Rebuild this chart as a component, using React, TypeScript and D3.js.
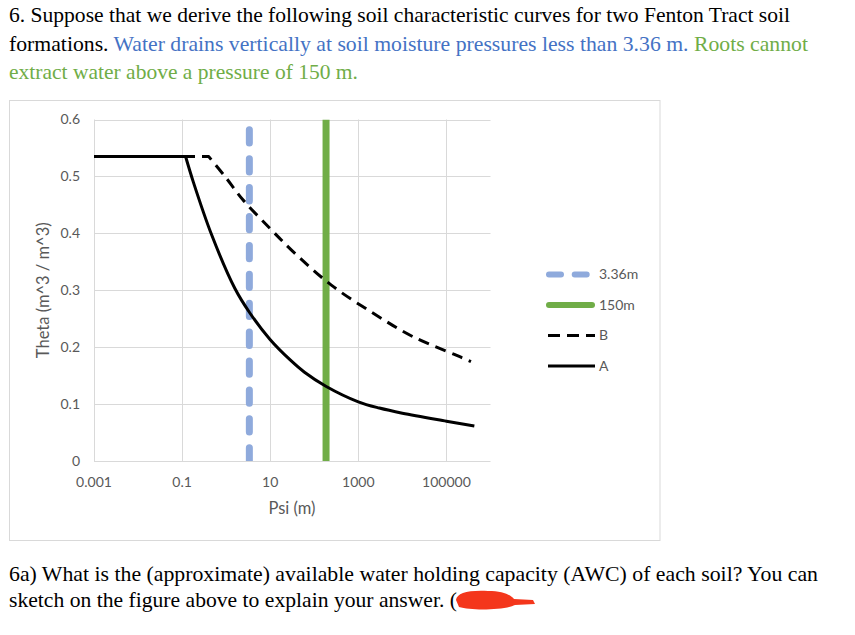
import React from "react";
import * as d3 from "d3";

// ---- data ----
const xTickValues = [0.001, 0.1, 10, 1000, 100000];
const xTickLabels = ["0.001", "0.1", "10", "1000", "100000"];
const yTickValues = [0, 0.1, 0.2, 0.3, 0.4, 0.5, 0.6];
const yTickLabels = ["0", "0.1", "0.2", "0.3", "0.4", "0.5", "0.6"];

const drainPsi = [3.36, 3.36];
const drainTheta = [0, 0.6];
const wiltPsi = [185, 185];
const wiltTheta = [0, 0.6];

const psiA = [0.001, 0.12, 0.18, 0.47, 1.58, 3.45, 9.8, 28, 60, 187, 1000, 3000, 10000, 100000, 430000];
const thetaA = [0.535, 0.535, 0.49, 0.397, 0.303, 0.26, 0.214, 0.178, 0.156, 0.131, 0.104, 0.093, 0.084, 0.07, 0.0615];
const psiB = [0.001, 0.4, 0.94, 2.4, 9.8, 33, 244, 2140, 17250, 166000, 360000];
const thetaB = [0.535, 0.535, 0.5, 0.459, 0.409, 0.368, 0.309, 0.26, 0.2185, 0.186, 0.1745];

const legendLabels = ["3.36m", "150m", "B", "A"];

const GREEN = "#70AD47";
const BLUE_TEXT = "#4472C4";
const BLUE_LINE = "#8FAADC";
const GRID = "#D9D9D9";
const LABEL = "#595959";
const SANS = "Lato, 'Open Sans', sans-serif";
const SERIF = "'Liberation Serif', 'Times New Roman', serif";

export default function App() {
  const W = 855;
  const H = 635;
  const x = d3.scaleLog().domain([0.001, 1e6]).range([94, 490.5]);
  const y = d3.scaleLinear().domain([0, 0.6]).range([461, 119.5]);
  const [x0, x1] = x.range();
  const [y0, y1] = y.range();

  const lin = d3
    .line<[number, number]>()
    .x((d) => x(d[0]))
    .y((d) => y(d[1]))
    .curve(d3.curveLinear);
  const smooth = d3
    .line<[number, number]>()
    .x((d) => x(d[0]))
    .y((d) => y(d[1]))
    .curve(d3.curveCatmullRom.alpha(0.5));

  // flat part (linear) + curved part (smooth) joined into one path
  const curvePath = (ps: number[], ts: number[]) => {
    const pts: [number, number][] = ps.map((p, i) => [p, ts[i]]);
    const flat = lin(pts.slice(0, 2)) || "";
    const rest = (smooth(pts.slice(1)) || "").replace(/^M/, "L");
    return flat + rest;
  };
  const vline = (ps: number[], ts: number[]) =>
    lin(ps.map((p, i) => [p, ts[i]] as [number, number])) || "";

  const legendY = [274.5, 305, 335.5, 366];

  return (
    <svg
      width={W}
      height={H}
      style={{ position: "absolute", left: 0, top: 0, display: "block", background: "#fff" }}
    >
      <defs>
        <clipPath id="plotClip">
          <rect x={x0} y={y1} width={x1 - x0} height={y0 - y1} />
        </clipPath>
      </defs>

      {/* question text */}
      <text x={9} y={22} fontFamily={SERIF} fontSize={21} fill="#000" textLength={781} lengthAdjust="spacingAndGlyphs">
        6. Suppose that we derive the following soil characteristic curves for two Fenton Tract soil
      </text>
      <text x={9} y={51} fontFamily={SERIF} fontSize={21} textLength={799} lengthAdjust="spacingAndGlyphs">
        <tspan fill="#000">formations. </tspan>
        <tspan fill={BLUE_TEXT}>Water drains vertically at soil moisture pressures less than 3.36 m.</tspan>
        <tspan fill={GREEN}> Roots cannot</tspan>
      </text>
      <text x={9} y={79} fontFamily={SERIF} fontSize={21} fill={GREEN} textLength={349} lengthAdjust="spacingAndGlyphs">
        extract water above a pressure of 150 m.
      </text>

      {/* chart frame */}
      <rect x={9.5} y={100.5} width={650.5} height={440} fill="#fff" stroke={GRID} strokeWidth={1} />

      {/* gridlines */}
      {yTickValues.map((v) => (
        <line key={"gy" + v} x1={x0} x2={x1} y1={Math.round(y(v)) + 0.5} y2={Math.round(y(v)) + 0.5} stroke={GRID} strokeWidth={1} />
      ))}
      {xTickValues.map((v) => (
        <line key={"gx" + v} x1={Math.round(x(v)) + 0.5} x2={Math.round(x(v)) + 0.5} y1={y1} y2={y0} stroke={GRID} strokeWidth={1} />
      ))}

      {/* tick labels */}
      {yTickValues.map((v, i) => (
        <text key={"ty" + v} x={80} y={y(v)} dy="0.35em" textAnchor="end" fontFamily={SANS} fontSize={14} fill={LABEL}>
          {yTickLabels[i]}
        </text>
      ))}
      {xTickValues.map((v, i) => (
        <text key={"tx" + v} x={x(v)} y={482} dy="0.35em" textAnchor="middle" fontFamily={SANS} fontSize={14} fill={LABEL}>
          {xTickLabels[i]}
        </text>
      ))}

      {/* axis titles */}
      <text x={292} y={508} dy="0.35em" textAnchor="middle" fontFamily={SANS} fontSize={16.5} fill={LABEL}>
        Psi (m)
      </text>
      <text
        transform={`translate(43,${(y0 + y1) / 2}) rotate(-90)`}
        dy="0.35em"
        textAnchor="middle"
        fontFamily={SANS}
        fontSize={16.5}
        fill={LABEL}
      >
        Theta (m^3 / m^3)
      </text>

      {/* series */}
      <g clipPath="url(#plotClip)">
        <path
          d={vline(drainPsi, drainTheta)}
          fill="none"
          stroke={BLUE_LINE}
          strokeWidth={7}
          strokeDasharray="13.3 15.6"
          strokeLinecap="round"
        />
        <path d={vline(wiltPsi, wiltTheta)} fill="none" stroke={GREEN} strokeWidth={7} />
        <path
          d={curvePath(psiB, thetaB)}
          fill="none"
          stroke="#000"
          strokeWidth={3}
          strokeDasharray="11 7"
          strokeLinejoin="round"
        />
        <path d={curvePath(psiA, thetaA)} fill="none" stroke="#000" strokeWidth={3} strokeLinejoin="round" />
      </g>

      {/* legend */}
      <line x1={549} x2={595} y1={legendY[0]} y2={legendY[0]} stroke={BLUE_LINE} strokeWidth={6} strokeDasharray="12 13.7" strokeLinecap="round" />
      <line x1={549} x2={592} y1={legendY[1]} y2={legendY[1]} stroke={GREEN} strokeWidth={6} strokeLinecap="round" />
      <line x1={548} x2={595} y1={legendY[2]} y2={legendY[2]} stroke="#000" strokeWidth={3} strokeDasharray="12 7" />
      <line x1={548} x2={595} y1={legendY[3]} y2={legendY[3]} stroke="#000" strokeWidth={3} />
      {legendLabels.map((t, i) => (
        <text key={t} x={599} y={legendY[i]} dy="0.35em" fontFamily={SANS} fontSize={14} fill={LABEL}>
          {t}
        </text>
      ))}

      {/* follow-up question */}
      <text x={9} y={581} fontFamily={SERIF} fontSize={21} fill="#000" textLength={809} lengthAdjust="spacingAndGlyphs">
        6a) What is the (approximate) available water holding capacity (AWC) of each soil? You can
      </text>
      <text x={9} y={607} fontFamily={SERIF} fontSize={21} fill="#000" textLength={448} lengthAdjust="spacingAndGlyphs">
        sketch on the figure above to explain your answer. (
      </text>
      <path
        d="M456,600 C457,593 468,590 488,591 C503,591 511,595 514,599 L533,600 L535,604 L515,605 C505,610 472,611 459,607 Z"
        fill="#F4361B"
      />
    </svg>
  );
}
